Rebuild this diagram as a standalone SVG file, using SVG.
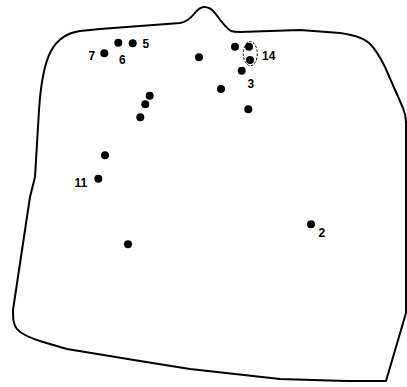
<svg xmlns="http://www.w3.org/2000/svg" width="407" height="387" viewBox="0 0 407 387">
<style>
.outline{fill:none;stroke:#000;stroke-width:2;stroke-linejoin:round}
.dot{fill:#000}
.lbl{font-family:"Liberation Sans Narrow","Liberation Sans",sans-serif;font-size:12px;font-weight:bold;fill:#000}
.ring{fill:none;stroke:#000;stroke-width:1;stroke-dasharray:2.5 1.5}
</style>
<rect width="407" height="387" fill="#fff"/>
<path class="outline" d="M 100 29 L 180 23 C 186 22, 190 19, 194 14 C 198 9, 201 7, 204 7 C 208 7, 212 9, 215 13 C 220 20, 226 28, 231 31 C 234 32, 237 32, 240 32 L 300 30 L 340 33 C 355 35, 366 39, 371 45 C 376 50, 380 57, 385 67 L 403 108 C 405 113, 406 118, 406 122 L 406 313 L 386 381 L 347 381 L 280 379 L 190 369 L 140 361 L 67 349 L 43 342 C 30 338, 21 334, 17 329 C 13 324, 13 318, 13 310 L 16 290 L 30 197 L 35 177 L 39 110 C 41 80, 45 62, 51 51 C 57 40, 66 33, 80 31 Z"/>
<g id="n5"><circle class="dot" cx="132.7" cy="43.3" r="4"/><text class="lbl" x="142.5" y="47.5">5</text></g>
<g id="n6"><circle class="dot" cx="118.3" cy="42.7" r="4"/><text class="lbl" x="119" y="63.5">6</text></g>
<g id="n7"><circle class="dot" cx="104.3" cy="53.3" r="4"/><text class="lbl" x="88.5" y="60">7</text></g>
<g id="n14"><circle class="dot" cx="249" cy="46.7" r="4"/><circle class="dot" cx="250" cy="60" r="4"/><ellipse class="ring" cx="250.3" cy="53.7" rx="7" ry="12"/><text class="lbl" x="262" y="59.5">14</text></g>
<g id="n3"><circle class="dot" cx="241.7" cy="70.7" r="4"/><text class="lbl" x="247.5" y="87.5">3</text></g>
<g id="n11"><circle class="dot" cx="98.3" cy="178.7" r="4"/><text class="lbl" x="74.5" y="187">11</text></g>
<g id="n2"><circle class="dot" cx="311" cy="224.3" r="4"/><text class="lbl" x="318.5" y="236.7">2</text></g>
<g id="others">
<circle class="dot" cx="235" cy="46.7" r="4"/>
<circle class="dot" cx="199" cy="57.3" r="4"/>
<circle class="dot" cx="221" cy="89" r="4"/>
<circle class="dot" cx="248.3" cy="109.3" r="4"/>
<circle class="dot" cx="149.7" cy="95.7" r="4"/>
<circle class="dot" cx="145.3" cy="104.3" r="4"/>
<circle class="dot" cx="140.3" cy="117.3" r="4"/>
<circle class="dot" cx="105" cy="155.3" r="4"/>
<circle class="dot" cx="128" cy="244.3" r="4"/>
</g>
<g id="connectors"/>
</svg>
